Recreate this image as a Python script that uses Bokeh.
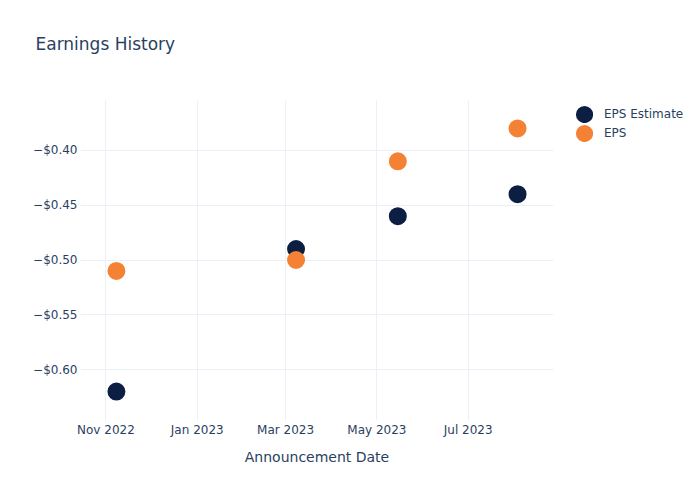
from datetime import datetime
from bokeh.plotting import figure
from bokeh.models import (ColumnDataSource, FixedTicker, CustomJSTickFormatter,
                          DatetimeTickFormatter, Legend, LegendItem, Range1d, Title)
from bokeh.embed import file_html
from bokeh.resources import INLINE

# ---- data ----
dates = ["2022-11-08", "2023-03-08", "2023-05-15", "2023-08-03"]
eps_estimate = [-0.62, -0.49, -0.46, -0.44]
eps_actual = [-0.51, -0.50, -0.41, -0.38]
y_ticks = [-0.60, -0.55, -0.50, -0.45, -0.40]
x_tick_dates = ["2022-11-01", "2023-01-01", "2023-03-01", "2023-05-01", "2023-07-01"]

def ms(s):
    return (datetime.strptime(s, "%Y-%m-%d") - datetime(1970, 1, 1)).total_seconds() * 1000

xd = [ms(d) for d in dates]
src_est = ColumnDataSource(dict(x=xd, y=eps_estimate))
src_eps = ColumnDataSource(dict(x=xd, y=eps_actual))

FONT = "DejaVu Sans"
TXT = "#2a3f5f"
GRID = "#ebf0f8"
C_EST = "#0c1f42"
C_EPS = "#f58134"

p = figure(frame_width=473, frame_height=320, output_backend="svg", toolbar_location=None,
           x_axis_type="datetime",
           min_border_left=80, min_border_right=147, min_border_top=100, min_border_bottom=80)
p.x_range = Range1d(ms("2022-10-15"), ms("2023-08-27"))
p.y_range = Range1d(-0.6464, -0.3545)
p.outline_line_color = None
p.background_fill_color = "white"
p.border_fill_color = "white"

# marker diameter = size + line_width (thick outline also enlarges the legend dot)
r1 = p.scatter("x", "y", source=src_est, size=8, fill_color=C_EST, line_color=C_EST, line_width=10)
r2 = p.scatter("x", "y", source=src_eps, size=8, fill_color=C_EPS, line_color=C_EPS, line_width=10)

# axes
for ax in (p.xaxis[0], p.yaxis[0]):
    ax.axis_line_color = None
    ax.major_tick_line_color = None
    ax.minor_tick_line_color = None
    ax.major_tick_out = 0
    ax.major_tick_in = 0
    ax.minor_tick_out = 0
    ax.minor_tick_in = 0
    ax.major_label_text_font = FONT
    ax.major_label_text_font_size = "12px"
    ax.major_label_text_color = TXT

p.yaxis.ticker = FixedTicker(ticks=y_ticks)
p.yaxis.formatter = CustomJSTickFormatter(code="""
    return (tick < 0 ? '\\u2212' : '') + '$' + Math.abs(tick).toFixed(2);
""")
p.yaxis.major_label_standoff = 3

p.xaxis.ticker = FixedTicker(ticks=[ms(d) for d in x_tick_dates])
fmt = "%b %Y"
p.xaxis.formatter = DatetimeTickFormatter(days=fmt, months=fmt, years=fmt, hours=fmt,
                                          minutes=fmt, seconds=fmt, milliseconds=fmt,
                                          microseconds=fmt, minsec=fmt, hourmin=fmt)
p.xaxis.major_label_standoff = 2
p.xaxis.axis_label = "Announcement Date"
p.xaxis.axis_label_text_font = FONT
p.xaxis.axis_label_text_font_size = "14px"
p.xaxis.axis_label_text_font_style = "normal"
p.xaxis.axis_label_text_color = TXT
p.xaxis.axis_label_standoff = 9

p.xgrid.grid_line_color = GRID
p.ygrid.grid_line_color = GRID

# spacer between frame and title
spacer = Title(text=" ", text_font=FONT, text_font_size="17px", standoff=25)
p.add_layout(spacer, "above")

# title
p.title.text = "Earnings History"
p.title.text_font = FONT
p.title.text_font_size = "17px"
p.title.text_font_style = "normal"
p.title.text_color = TXT
p.title.align = "left"
p.title.offset = -45
p.title.standoff = 0

# legend
legend = Legend(items=[LegendItem(label="EPS Estimate", renderers=[r1]),
                       LegendItem(label="EPS", renderers=[r2])],
                location="top_left", orientation="vertical",
                title=" ", title_location="left", title_standoff=3,
                title_text_font=FONT, title_text_font_size="12px",
                border_line_color=None, background_fill_alpha=0,
                label_text_font=FONT, label_text_font_size="12px",
                label_text_color=TXT, glyph_width=18, glyph_height=18,
                label_height=14, label_standoff=11, spacing=1, padding=0, margin=5)
p.add_layout(legend, "right")

open("out.html", "w").write(file_html(p, INLINE))
